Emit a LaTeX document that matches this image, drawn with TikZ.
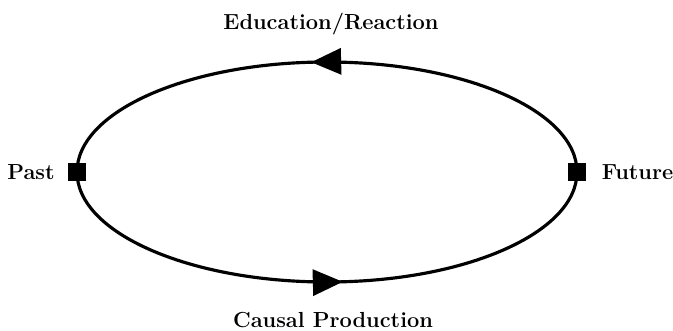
\documentclass[tikz,border=0pt]{standalone}
\usepackage{tikz}
\usetikzlibrary{arrows.meta,decorations.markings}

\begin{document}
\begin{tikzpicture}[
  x=0.02cm,y=-0.02cm,
  lbl/.style={font=\fontsize{12.4}{14}\selectfont\bfseries,inner sep=1pt},
  stamp/.style={draw=black,fill=black,minimum size=0.34cm,inner sep=0pt},
  ring/.style={line width=1.8pt,postaction={decorate},
    decoration={markings,mark=at position 0.527 with
      {\arrow{Triangle[length=0.6cm,width=0.52cm]}}}},
]
\useasboundingbox (0,0) rectangle (673,331);
% end points of the loop
\coordinate (pastc) at (77,172);
\coordinate (futc) at (577,172);

% the two halves of the loop
\draw[ring] (pastc) arc[start angle=180,end angle=0,x radius=250,y radius=110];
\draw[ring] (futc) arc[start angle=0,end angle=-180,x radius=250,y radius=110];
\node[stamp] (past) at (pastc) {};
\node[stamp] (fut) at (futc) {};

% labels
\node[lbl] (top) at (331,24) {Education/Reaction};
\node[lbl] (bot) at (333,320) {Causal Production};
\node[lbl,left=11.5pt] (pl) at (past) {Past};
\node[lbl,right=13pt] (fl) at (fut) {Future};
\end{tikzpicture}
\end{document}
